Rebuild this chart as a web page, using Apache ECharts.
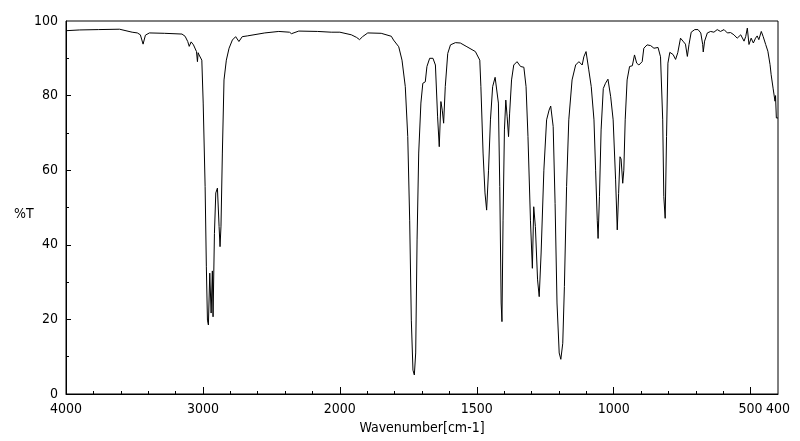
<!DOCTYPE html>
<html>
<head>
<meta charset="utf-8">
<script src="https://cdn.jsdelivr.net/npm/echarts@6/dist/echarts.min.js"></script>
<style>
html,body{margin:0;padding:0;background:#fff;}
#chart{width:800px;height:441px;}
</style>
</head>
<body>
<div id="chart"></div>
<script>
// Wavenumber (cm-1)
const wavenumbers = [
4000,3900,3762,3609,3517,3479,3457,3437,3420,3391,3282,3153,3130,3111,3100,3086,3069,3057,3047,3040,3035,3028,3008,
2998,2984,2975,2967,2960,2950,2940,2931,2926,2916,2906,2894,2882,2875,2868,2858,2846,2829,2809,2785,2761,2737,2713,
2676,2548,2446,2368,2353,2300,2162,2063,2000,
1958,1939,1928,1917,1898,1849,1812,1804,1785,1773,1761,1752,1745,1739,1733,1728,1723,1718,1712,1704,1697,1688,1682,
1672,1660,1651,1643,1637,1631,1626,1621,1615,1606,1596,1578,1560,1536,1505,1489,1485,1477,1470,1464,1457,1450,1442,
1433,1428,1421,1416,1411,1408,1404,1399,1394,1389,1384,1380,1373,1365,1353,1340,1328,1320,1313,1304,1297,1292,1286,
1278,1272,1265,1255,1245,1236,1230,1221,1214,1207,1199,1193,1186,1180,1172,1164,1152,1139,1127,1115,1109,1101,1091,
1082,1072,1066,1060,1057,1052,1046,1038,1030,1021,1011,1002,993,987,982,977,973,967,963,958,951,942,932,924,916,908,
896,890,878,865,853,838,829,821,817,812,807,802,795,783,774,766,756,747,738,731,725,717,704,692,682,675,673,668,658,
646,634,622,610,597,585,573,561,549,536,524,518,512,506,498,490,482,476,470,461,454,445,437,429,425,418,415,411,409,406,400
];
// Transmittance (%T)
const transmittance = [
97.4,97.6,97.7,97.8,97.0,96.8,96.3,93.8,96.2,96.8,96.7,96.5,95.9,94.5,93.2,94.4,93.6,93.5,91.8,89.1,91.5,90.9,89.5,
78,55.6,34.1,19.8,18.5,32.4,21.7,33,20.7,43,53.9,55.2,44.9,39.5,45,64.6,84.2,89.5,92.7,94.9,95.8,94.5,95.8,
96,96.8,97.2,97.0,96.6,97.3,97.2,97.0,97.0,
96.3,95.6,95.0,95.8,96.8,96.7,95.9,94.9,93.1,89.5,82.4,69,46.6,19.8,6.4,5.1,11,41.3,64.6,78,83.3,83.7,87.8,
90,90,88.2,74.3,66.3,78.4,76.1,72.6,82.4,91.3,93.6,94.2,94.1,93.1,91.8,89.5,82.4,64.6,53.9,49.3,60,73.5,82.4,
84.9,84.9,78,55.6,24.4,19.4,46.6,70.8,78.8,74.3,69,75.3,84.2,88.2,89.1,87.8,87.6,82.4,69,46.6,33.7,50.2,44.9,
30.6,26.1,37.8,60,73.5,76.1,77.2,71.7,51.1,24.4,11,9.3,13.6,28.8,55.6,73.5,84.2,88.2,89.1,88.2,90.4,91.8,86.9,
82.4,73.5,60,46.6,41.7,52.9,70.8,81.9,83.3,84.4,79.7,73.5,57.4,44,53.8,63.6,63,56.5,60,73.5,84.2,87.8,88,90.9,88.7,88.2,
89.1,92.7,93.6,93.4,92.7,92.9,90.4,73.5,52.9,47.1,69,88.7,91.6,91,89.7,91.5,95.4,94.6,93.8,90.5,93.7,97,97.7,97.7,96.8,93.7,91.7,94.6,96.8,
97.2,97,97.7,97.2,97.7,96.8,96.9,96.3,95.4,96.3,94.6,95.8,98.1,93.7,95.4,94.1,95.4,96,95,97.2,95.8,93.7,91.9,88.3,85.6,82,82.5,78.5,80,74,74
];
const yTicks = [0, 20, 40, 60, 80, 100];
const yMinorTicks = [10, 30, 50, 70, 90];
const xTickLabels = [4000, 3000, 2000, 1500, 1000, 500, 400];

// axis is drawn at half scale above 2000 cm-1 and full scale below
function toAxis(w) { return w >= 2000 ? (4000 - w) / 2 : 1000 + (2000 - w); }
function fromAxis(u) { return u <= 1000 ? 4000 - 2 * u : 2000 - (u - 1000); }

const seriesData = wavenumbers.map((w, i) => [toAxis(w), transmittance[i]]);
const labelValues = xTickLabels.map(toAxis);
const majorTicks = xTickLabels.filter(w => w !== 4000 && w !== 400).map(toAxis);
const minorTicks = [];
for (let u = 100; u < 2500; u += 100) if (u % 500 !== 0) minorTicks.push(u);

const FONT = "'DejaVu Sans Condensed', 'Liberation Sans Narrow', sans-serif";
const chart = echarts.init(document.getElementById('chart'), null, {renderer: 'canvas'});
chart.setOption({
  animation: false,
  backgroundColor: '#fff',
  grid: {left: 66, top: 21, width: 712, height: 373, show: true, borderColor: '#000', borderWidth: 1, backgroundColor: 'transparent'},
  xAxis: [{
    type: 'value', min: 0, max: 2600,
    axisLine: {show: true, lineStyle: {color: '#000', width: 1}},
    axisTick: {show: true, inside: true, length: 7, customValues: majorTicks, lineStyle: {color: '#000'}},
    axisLabel: {show: true, customValues: labelValues, formatter: v => String(Math.round(fromAxis(v))), color: '#000', fontSize: 14, fontFamily: FONT, margin: 8},
    splitLine: {show: false},
    name: 'Wavenumber[cm-1]', nameLocation: 'middle', nameGap: 26,
    nameTextStyle: {color: '#000', fontSize: 14, fontFamily: FONT}
  }, {
    type: 'value', min: 0, max: 2600, position: 'bottom',
    axisLine: {show: false},
    axisTick: {show: true, inside: true, length: 3, customValues: minorTicks, lineStyle: {color: '#000'}},
    axisLabel: {show: false},
    splitLine: {show: false}
  }],
  yAxis: [{
    type: 'value', min: 0, max: 100,
    axisLine: {show: true, lineStyle: {color: '#000', width: 1}},
    axisTick: {show: true, inside: true, length: 5, customValues: [20, 40, 60, 80], lineStyle: {color: '#000'}},
    axisLabel: {color: '#000', fontSize: 14, fontFamily: FONT, margin: 8, customValues: yTicks},
    splitLine: {show: false}
  }, {
    type: 'value', min: 0, max: 100, position: 'left',
    axisLine: {show: false},
    axisTick: {show: true, inside: true, length: 3, customValues: yMinorTicks, lineStyle: {color: '#000'}},
    axisLabel: {show: false},
    splitLine: {show: false}
  }],
  graphic: [{type: 'text', left: 14, top: 207, style: {text: '%T', fill: '#000', font: '14px ' + FONT}}],
  series: [{
    type: 'line', xAxisIndex: 0, yAxisIndex: 0, data: seriesData, showSymbol: false, symbol: 'none',
    lineStyle: {color: '#000', width: 1}, silent: true
  }]
});
</script>
</body>
</html>
